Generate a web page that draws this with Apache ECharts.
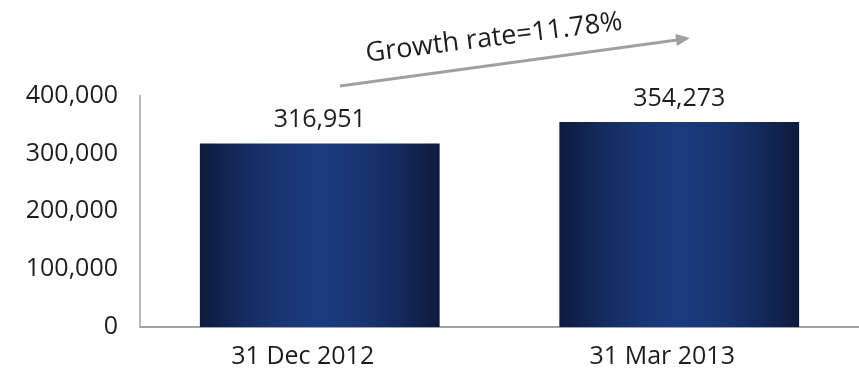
<!DOCTYPE html>
<html>
<head>
<meta charset="utf-8">
<script src="https://cdn.jsdelivr.net/npm/echarts@6/dist/echarts.min.js"></script>
<style>
  html, body { margin: 0; padding: 0; background: #fff; }
  #chart { width: 859px; height: 373px; }
</style>
</head>
<body>
<div id="chart"></div>
<script>
// data
const categories = ['31 Dec 2012', '31 Mar 2013']
const values = [316951, 354273]
const yTicks = [0, 100000, 200000, 300000, 400000]
const growthText = 'Growth rate=11.78%'

const font = '"Open Sans", "Noto Sans", sans-serif'
const textColor = '#1e1e1e'
const axisGray = '#a3a3a3'

const chart = echarts.init(document.getElementById('chart'))

// dark edges, lighter blue in the middle
const barColor = new echarts.graphic.LinearGradient(0, 0, 1, 0, [
  { offset: 0, color: '#0d1b3c' },
  { offset: 0.15, color: '#132859' },
  { offset: 0.35, color: '#193674' },
  { offset: 0.5, color: '#1b3b7e' },
  { offset: 0.65, color: '#193674' },
  { offset: 0.85, color: '#132859' },
  { offset: 1, color: '#0d1b3c' }
])

const option = {
  animation: false,
  backgroundColor: '#fff',
  grid: { left: 140, right: 0, top: 95.5, bottom: 46 },
  xAxis: {
    type: 'category',
    data: categories,
    axisLine: { lineStyle: { color: axisGray, width: 2 } },
    axisTick: { show: false },
    axisLabel: {
      color: textColor,
      fontFamily: font,
      fontSize: 25,
      margin: 17,
      padding: [0, 34, 0, 0]
    }
  },
  yAxis: {
    type: 'value',
    min: yTicks[0],
    max: yTicks[yTicks.length - 1],
    interval: yTicks[1] - yTicks[0],
    splitLine: { show: false },
    axisLine: { show: true, lineStyle: { color: axisGray, width: 1.5 } },
    axisTick: { show: false },
    axisLabel: {
      color: textColor,
      fontFamily: font,
      fontSize: 25,
      margin: 22,
      formatter: v => v.toLocaleString('en-US')
    }
  },
  series: [{
    type: 'bar',
    data: values,
    barCategoryGap: '33.3%',
    itemStyle: { color: barColor },
    label: {
      show: true,
      position: 'top',
      distance: 11,
      color: textColor,
      fontFamily: font,
      fontSize: 25,
      formatter: p => p.value.toLocaleString('en-US')
    }
  }],
  graphic: [
    {
      // growth arrow shaft
      type: 'line',
      shape: { x1: 340, y1: 86, x2: 677, y2: 40 },
      style: { stroke: '#a0a0a0', lineWidth: 3 }
    },
    {
      // arrow head
      type: 'polygon',
      shape: { points: [[690, 38], [676.9, 46], [675.3, 34]] },
      style: { fill: '#a0a0a0' }
    },
    {
      type: 'text',
      x: 494,
      y: 38,
      rotation: 0.125,
      style: {
        text: growthText,
        fill: textColor,
        font: '27px ' + font,
        align: 'center',
        verticalAlign: 'middle'
      }
    }
  ]
}

chart.setOption(option)
</script>
</body>
</html>
